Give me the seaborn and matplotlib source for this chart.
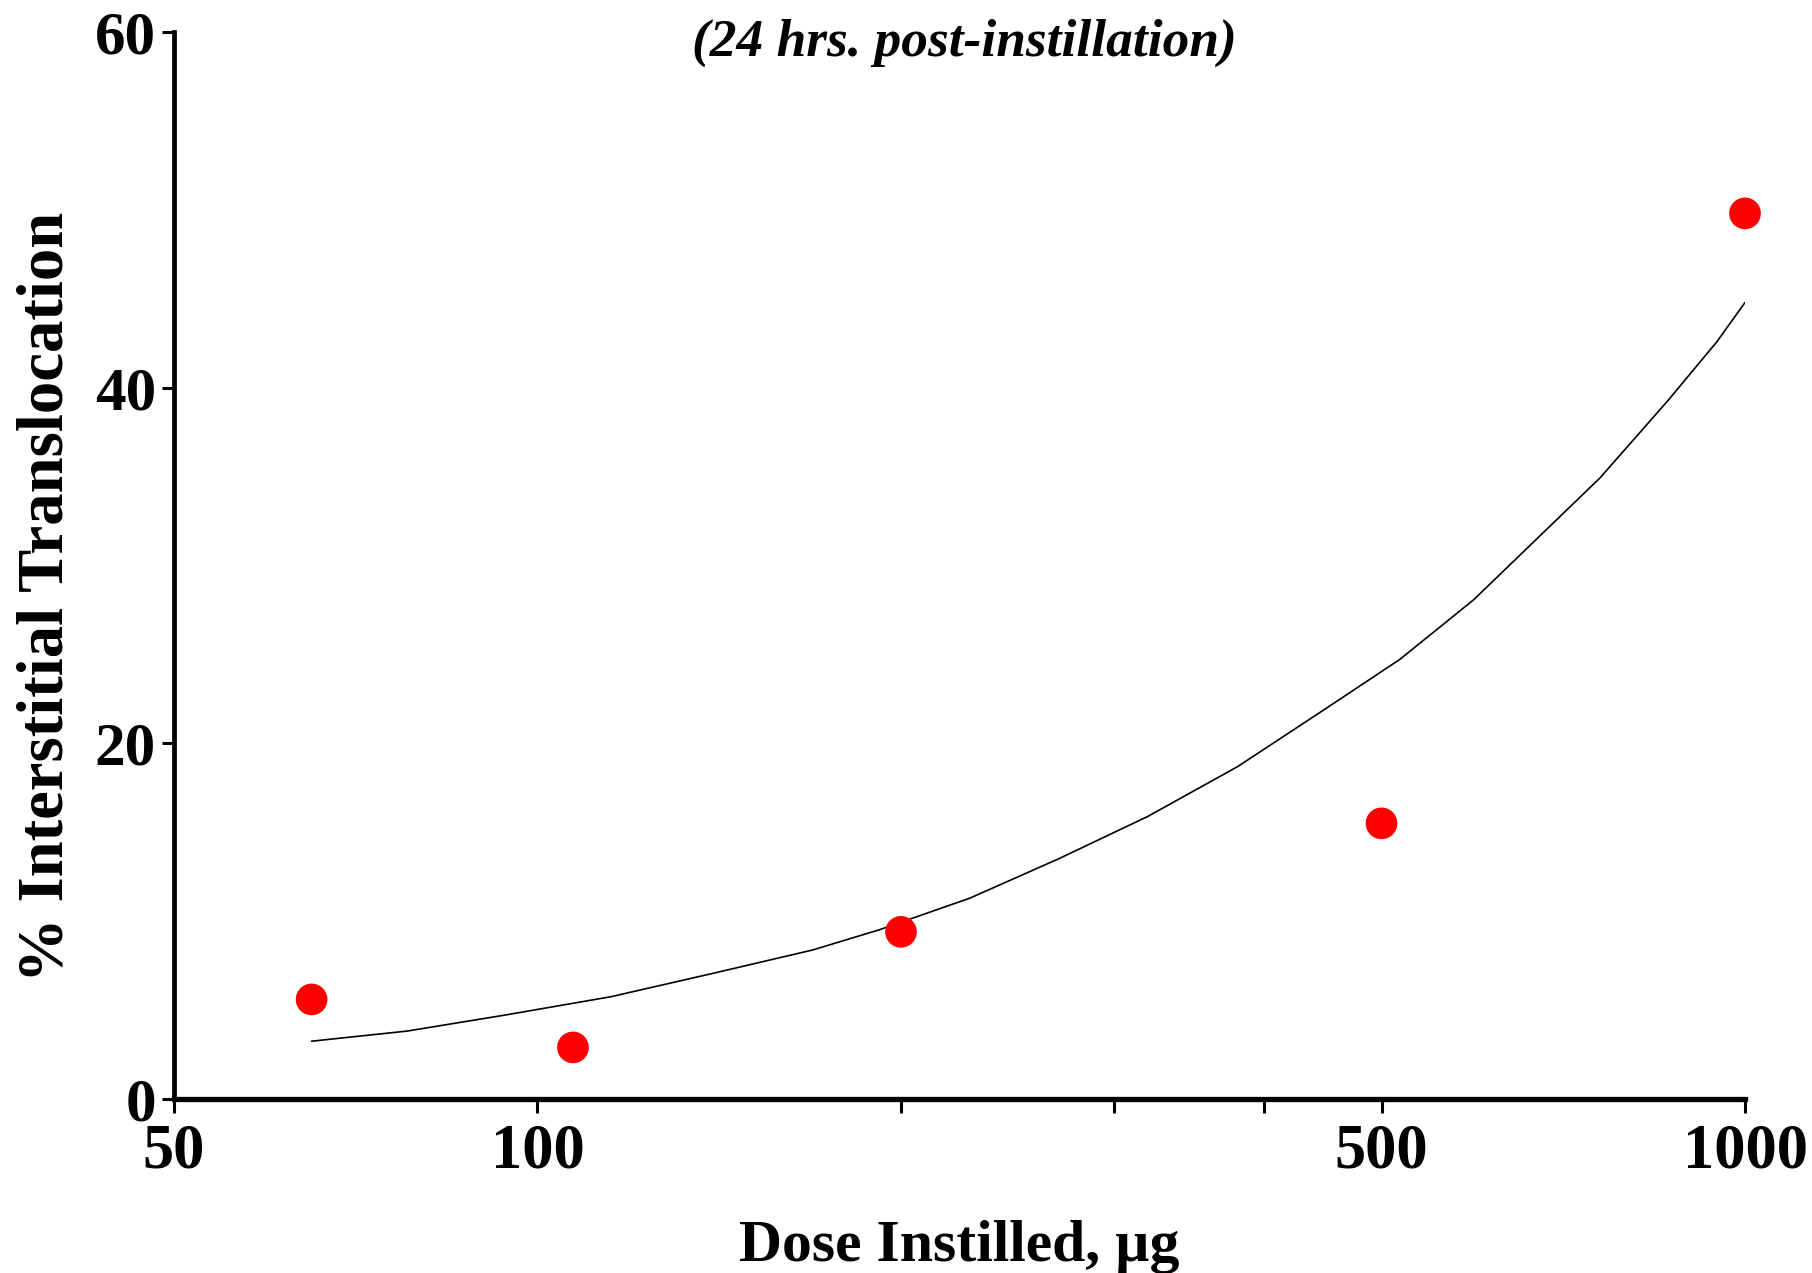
import matplotlib
matplotlib.use("Agg")
import matplotlib.pyplot as plt
import seaborn as sns
import pandas as pd

# Measured translocation at each instilled dose
dose_ug = [65, 107, 200, 500, 1000]
translocation_pct = [5.6, 2.9, 9.4, 15.5, 49.8]

# Fitted trend curve, sampled along the dose axis
fit_dose = [65, 78, 94, 115, 139, 169, 192, 228, 270, 320, 380, 450, 518, 596,
            758, 862, 948, 1000]
fit_pct = [3.25, 3.82, 4.72, 5.75, 7.03, 8.38, 9.52, 11.29, 13.5, 15.88, 18.69,
           21.97, 24.73, 28.07, 34.91, 39.22, 42.59, 44.79]

x_ticks = [50, 100, 200, 300, 400, 500, 1000]
x_tick_labels = ["50", "100", "", "", "", "500", "1000"]
y_ticks = [0, 20, 40, 60]

sns.set_style("ticks")
plt.rcParams["font.family"] = ["Liberation Serif", "DejaVu Serif"]
plt.rcParams["font.weight"] = "bold"
plt.rcParams["text.color"] = "black"
plt.rcParams["axes.labelcolor"] = "black"

points = pd.DataFrame({"dose": dose_ug, "pct": translocation_pct})
curve = pd.DataFrame({"dose": fit_dose, "pct": fit_pct})

fig = plt.figure(figsize=(18.12, 12.73), dpi=100)
ax = fig.add_axes([174 / 1812, 1 - 1099 / 1273, (1745 - 174) / 1812, (1099 - 32) / 1273])

sns.lineplot(data=curve, x="dose", y="pct", ax=ax, color="black", linewidth=1.2,
             sort=False, zorder=2)
sns.scatterplot(data=points, x="dose", y="pct", ax=ax, color="#ff0000", s=520,
                edgecolor="none", linewidth=0, zorder=3, clip_on=False)

ax.set_xscale("log")
ax.set_xlim(50, 1000)
ax.set_ylim(0, 60)
ax.set_xticks(x_ticks)
ax.set_xticklabels(x_tick_labels)
ax.minorticks_off()
ax.set_yticks(y_ticks)
ax.set_yticklabels([str(v) for v in y_ticks])

for side in ("top", "right"):
    ax.spines[side].set_visible(False)
ax.spines["left"].set_linewidth(3.4)
ax.spines["bottom"].set_linewidth(3.8)
ax.spines["left"].set_color("black")
ax.spines["bottom"].set_color("black")

ax.tick_params(axis="x", direction="out", length=10, width=2.2, pad=8,
               labelsize=45, colors="black")
ax.tick_params(axis="y", direction="out", length=9, width=2.2, pad=4,
               labelsize=44, colors="black")
for lab in ax.get_xticklabels() + ax.get_yticklabels():
    lab.set_fontweight("bold")

ax.set_xlabel("Dose Instilled, µg", fontsize=43, fontweight="bold",
              va="baseline", color="black")
ax.xaxis.set_label_coords(0.5, -162 / 1067)
ax.set_ylabel("% Interstitial Translocation", fontsize=46.5, fontweight="bold",
              color="black")
ax.yaxis.set_label_coords((77 - 174) / 1571, (1099 - 597) / 1067)

fig.text(964 / 1812, 1 - 43 / 1273, "(24 hrs. post-instillation)", fontsize=38.4,
         fontweight="bold", fontstyle="italic", ha="center", va="center",
         color="black")

fig.savefig("out.png", dpi=100)
